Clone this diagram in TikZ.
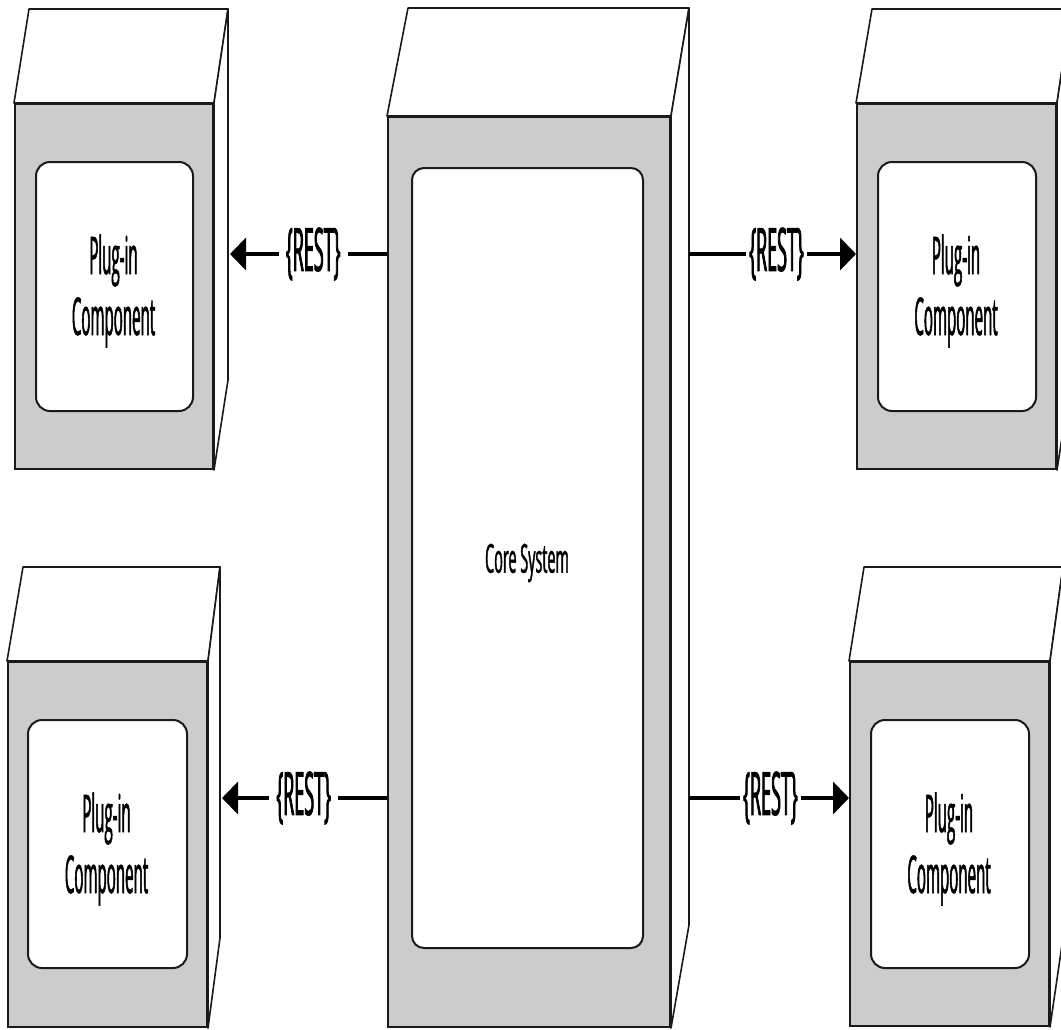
\documentclass[tikz,border=0pt]{standalone}
\usepackage{fontspec}
\usetikzlibrary{arrows.meta}
\newfontfamily\plugfont[FakeStretch=0.29,FakeBold=1]{Open Sans}
\newfontfamily\corefont[FakeStretch=0.36,FakeBold=1]{Open Sans}
\newfontfamily\restfont[FakeStretch=0.3,FakeBold=1.3]{Open Sans}
\definecolor{facegray}{HTML}{CCCCCC}
\definecolor{edge}{HTML}{1A1A1A}
\tikzset{
  frontface/.style={draw=edge, fill=facegray, line width=2pt, inner sep=0pt, minimum width=199pt, minimum height=365pt},
  innerbox/.style={draw=edge, fill=white, line width=2pt, rounded corners=14pt, inner sep=0pt, minimum width=158pt, minimum height=249pt},
  plugtext/.style={align=center, inner sep=0pt, font=\plugfont\fontsize{52}{61}\selectfont},
  coretext/.style={inner sep=0pt, font=\corefont\fontsize{40}{46}\selectfont},
  sideface/.style={draw=edge, fill=white, line width=1.6pt, line join=round},
  conn/.style={draw=black, line width=4pt},
  arr/.style={conn, -{Triangle[length=16pt,width=32pt]}},
  restlabel/.style={fill=white, inner xsep=3pt, inner ysep=0pt, font=\restfont\fontsize{60}{64}\selectfont}
}
\begin{document}
\begin{tikzpicture}[x=1pt,y=-1pt]
\path[use as bounding box, clip] (0,0) rectangle (1061,1029);
% ---------- core system ----------
\node[frontface, minimum width=282pt, minimum height=910pt] (core) at (529,572) {};
\draw[sideface] (core.north west) -- (408,8) -- (689,8) -- (core.north east) -- cycle;
\draw[sideface] (core.north east) -- (689,8) -- (689,925) -- (core.south east) -- cycle;
\node[innerbox, rounded corners=12pt, minimum width=231pt, minimum height=780pt] (corein) at (527.5,558) {};
\node[coretext] (coretxt) at (527,563) {Core System};
% ---------- top left ----------
\node[frontface, minimum width=198pt] (tl) at (114,286.5) {};
\draw[sideface] (tl.north west) -- (29,9) -- (228,9) -- (tl.north east) -- cycle;
\draw[sideface] (tl.north east) -- (228,9) -- (228,380) -- (tl.south east) -- cycle;
\node[innerbox, minimum width=157pt] (tlin) at (114.5,286.5) {};
\node[plugtext] (tltxt) at (113.5,291) {Plug-in\\Component};
% ---------- top right ----------
\node[frontface] (tr) at (956.5,286.5) {};
\draw[sideface] (tr.north west) -- (872,9) -- (1071,9) -- (tr.north east) -- cycle;
\draw[sideface] (tr.north east) -- (1071,9) -- (1071,380) -- (tr.south east) -- cycle;
\node[innerbox] (trin) at (957,286.5) {};
\node[plugtext] (trtxt) at (956,291) {Plug-in\\Component};
% ---------- bottom left ----------
\node[frontface] (bl) at (107.5,844.5) {};
\draw[sideface] (bl.north west) -- (23,567) -- (220,567) -- (bl.north east) -- cycle;
\draw[sideface] (bl.north east) -- (220,567) -- (220,938) -- (bl.south east) -- cycle;
\node[innerbox, minimum width=159pt, minimum height=248pt] (blin) at (107.5,844) {};
\node[plugtext] (bltxt) at (106.5,849) {Plug-in\\Component};
% ---------- bottom right ----------
\node[frontface, minimum height=364pt] (br) at (949.5,844) {};
\draw[sideface] (br.north west) -- (864,567) -- (1063,567) -- (br.north east) -- cycle;
\draw[sideface] (br.north east) -- (1063,567) -- (1063,938) -- (br.south east) -- cycle;
\node[innerbox, minimum height=248pt] (brin) at (950,844) {};
\node[plugtext] (brtxt) at (949,849) {Plug-in\\Component};
% ---------- connector ports ----------
\coordinate (coreL1) at (core.west |- 0,254);
\coordinate (coreL2) at (core.west |- 0,798);
\coordinate (coreR1) at (689,254);
\coordinate (coreR2) at (689,798);
\coordinate (tlport) at (230,254);
\coordinate (blport) at (222,798);
\coordinate (trport) at (tr.west |- 0,254);
\coordinate (brport) at (br.west |- 0,798);
% ---------- connectors ----------
\draw[arr] (coreL1) -- (tlport) node[restlabel, inner xsep=7pt, pos=0.47] {\{REST\}};
\draw[arr] (coreR1) -- (trport) node[restlabel, pos=0.524] {\{REST\}};
\draw[arr] (coreL2) -- (blport) node[restlabel, inner xsep=7pt, pos=0.505] {\{REST\}};
\draw[arr] (coreR2) -- (brport) node[restlabel, pos=0.509] {\{REST\}};
\end{tikzpicture}
\end{document}
